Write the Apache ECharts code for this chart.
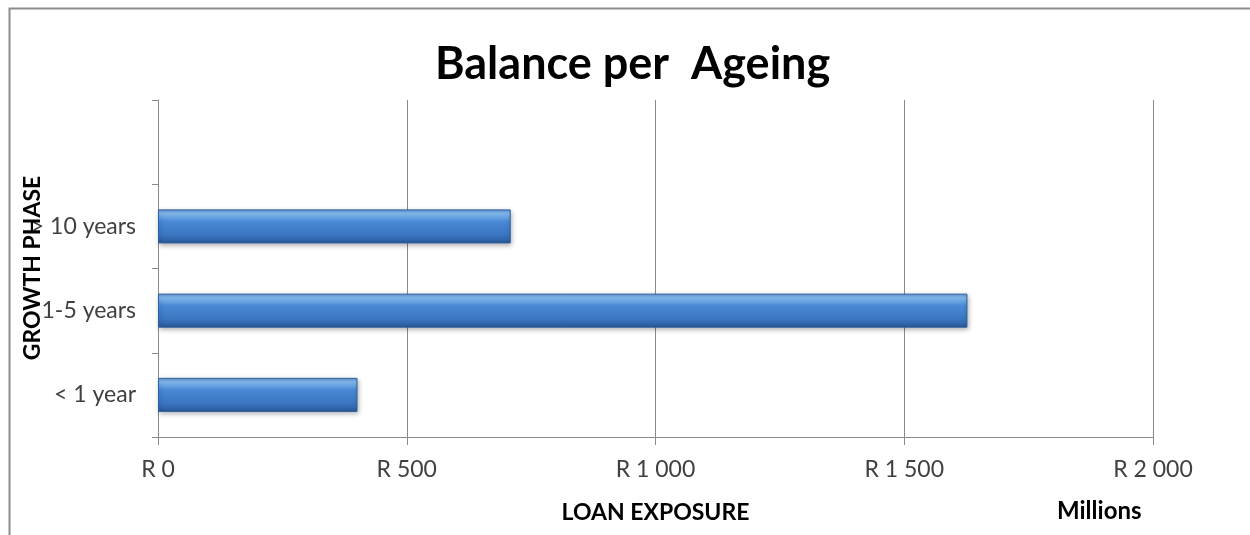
<!DOCTYPE html>
<html>
<head>
<meta charset="utf-8">
<script src="https://cdn.jsdelivr.net/npm/echarts@6/dist/echarts.min.js"></script>
<style>
  html, body { margin: 0; padding: 0; background: #ffffff; }
  #chart { width: 1250px; height: 535px; }
</style>
</head>
<body>
<div id="chart"></div>
<script>
// Loan exposure by ageing bucket (Rand, millions)
const categories = ['< 1 year', '1-5 years', '> 10 years', ''];
const balances = [401, 1627, 709, null];
const axisTicks = [0, 500, 1000, 1500, 2000];

const FONT = 'Lato, "Open Sans", sans-serif';

function rand(v) {
  const s = String(Math.round(v)).replace(/\B(?=(\d{3})+(?!\d))/g, ' ');
  return 'R ' + s;
}

const chart = echarts.init(document.getElementById('chart'));
chart.setOption({
  backgroundColor: '#ffffff',
  animation: false,
  title: {
    text: 'Balance per  Ageing',
    left: 430,
    top: 37,
    textStyle: { fontFamily: FONT, fontSize: 45, fontWeight: 'bold', color: '#000000' }
  },
  grid: {
    left: 158, right: 97, top: 100, bottom: 98,
    containLabel: false,
    outerBoundsMode: 'none'
  },
  xAxis: {
    type: 'value',
    min: axisTicks[0],
    max: axisTicks[axisTicks.length - 1],
    interval: 500,
    name: 'LOAN EXPOSURE',
    nameLocation: 'middle',
    nameGap: 64,
    nameTextStyle: { fontFamily: FONT, fontSize: 23, fontWeight: 'bold', color: '#000000' },
    axisLine: { show: true, lineStyle: { color: '#8a8a8a', width: 1 } },
    axisTick: { show: true, length: 8, lineStyle: { color: '#8a8a8a' } },
    axisLabel: {
      margin: 21,
      fontFamily: FONT, fontSize: 23, color: '#404040',
      formatter: rand
    },
    splitLine: { show: true, lineStyle: { color: '#8a8a8a', width: 1 } }
  },
  yAxis: {
    type: 'category',
    data: categories,
    boundaryGap: true,
    axisLine: { show: true, lineStyle: { color: '#8a8a8a', width: 1 } },
    axisTick: { show: true, length: 6, inside: false, lineStyle: { color: '#8a8a8a' } },
    axisLabel: { margin: 22, fontFamily: FONT, fontSize: 23, color: '#404040' },
    splitLine: { show: false }
  },
  series: [{
    type: 'bar',
    data: balances,
    barWidth: 34,
    itemStyle: {
      color: new echarts.graphic.LinearGradient(0, 0, 0, 1, [
        { offset: 0, color: '#5b93d8' },
        { offset: 0.12, color: '#86bcf0' },
        { offset: 0.35, color: '#4a8ad6' },
        { offset: 0.75, color: '#3a75c0' },
        { offset: 0.92, color: '#2f63a8' },
        { offset: 1, color: '#264f88' }
      ]),
      borderColor: '#2f5f9f',
      borderWidth: 1,
      shadowColor: 'rgba(0,0,0,0.35)',
      shadowBlur: 5,
      shadowOffsetX: 1,
      shadowOffsetY: 2
    }
  }],
  graphic: [
    {
      type: 'rect',
      shape: { x: 9.5, y: 8.5, width: 1400, height: 700 },
      style: { fill: null, stroke: '#8c8c8c', lineWidth: 2 },
      silent: true
    },
    {
      // vertical axis title, drawn over the category labels
      type: 'text',
      x: 33,
      y: 268,
      rotation: Math.PI / 2,
      z: 10,
      style: {
        text: 'GROWTH PHASE', fontFamily: FONT, fontSize: 23, fontWeight: 'bold',
        fill: '#000000', align: 'center', verticalAlign: 'middle'
      }
    },
    {
      type: 'text',
      left: 1057,
      top: 499,
      style: { text: 'Millions', fontFamily: FONT, fontSize: 24, fontWeight: 'bold', fill: '#000000' }
    }
  ]
});
</script>
</body>
</html>
